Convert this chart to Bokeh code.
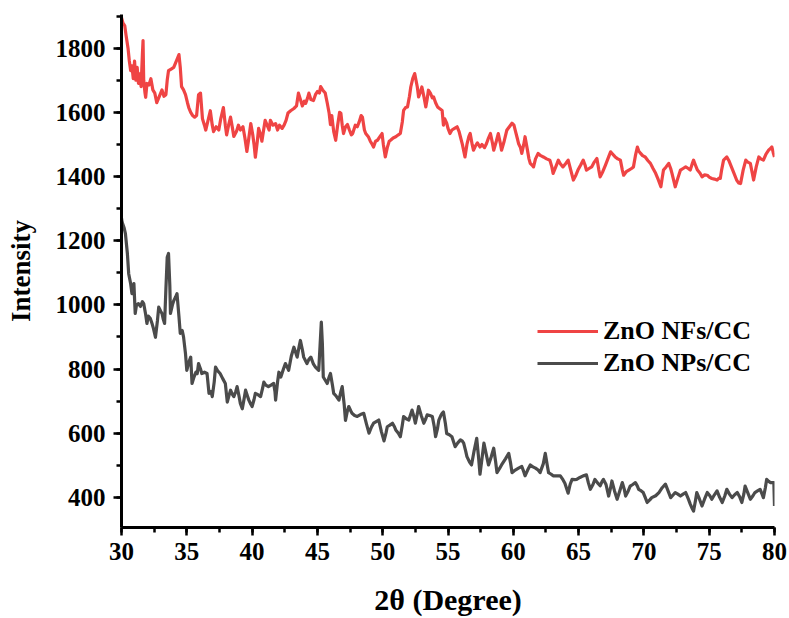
from bokeh.plotting import figure
from bokeh.models import Range1d, Legend, LegendItem, SingleIntervalTicker
from bokeh.embed import file_html
from bokeh.resources import INLINE

# ---------------- data ----------------
nfs_x = [30.0, 30.1, 30.25, 30.35, 30.5, 30.6, 30.7, 30.8, 30.9, 31.0, 31.1, 31.2, 31.3, 31.4, 31.5, 31.6, 31.65, 31.7, 31.8, 31.85,
         31.95, 32.1, 32.25, 32.4, 32.55, 32.7, 32.85, 33.0, 33.1, 33.25, 33.4, 33.5, 33.6, 33.8, 34.0, 34.15, 34.3, 34.4, 34.5, 34.6,
         34.75, 34.9, 35.05, 35.15, 35.3, 35.45, 35.6, 35.75, 35.9, 36.05, 36.2, 36.35, 36.45, 36.6, 36.8, 36.95, 37.05, 37.25, 37.45, 37.6,
         37.8, 37.95, 38.05, 38.2, 38.35, 38.5, 38.6, 38.8, 38.95, 39.1, 39.3, 39.45, 39.6, 39.75, 39.9, 40.05, 40.15, 40.25, 40.4, 40.5,
         40.65, 40.75, 40.9, 41.0, 41.15, 41.3, 41.4, 41.6, 41.8, 41.95, 42.1, 42.3, 42.45, 42.6, 42.75, 42.95, 43.2, 43.4, 43.55, 43.7,
         43.85, 44.0, 44.1, 44.25, 44.35, 44.5, 44.7, 44.85, 45.0, 45.15, 45.25, 45.4, 45.6, 45.75, 45.9, 46.0, 46.1, 46.25, 46.4, 46.55,
         46.7, 46.8, 46.9, 47.0, 47.15, 47.3, 47.45, 47.6, 47.7, 47.9, 48.05, 48.2, 48.35, 48.45, 48.6, 48.7, 48.9, 49.05, 49.2, 49.3,
         49.45, 49.6, 49.8, 49.95, 50.05, 50.2, 50.35, 50.5, 50.6, 50.8, 51.0, 51.2, 51.35, 51.5, 51.6, 51.75, 51.9, 52.05, 52.15, 52.3,
         52.45, 52.55, 52.65, 52.75, 52.9, 53.0, 53.15, 53.3, 53.4, 53.5, 53.65, 53.8, 53.9, 54.05, 54.2, 54.35, 54.55, 54.65, 54.75, 54.9,
         55.0, 55.15, 55.3, 55.5, 55.7, 55.85, 55.95, 56.1, 56.3, 56.45, 56.6, 56.7, 56.85, 56.95, 57.1, 57.25, 57.45, 57.6, 57.8, 57.95,
         58.1, 58.25, 58.4, 58.5, 58.7, 58.85, 59.0, 59.1, 59.3, 59.5, 59.7, 59.9, 60.05, 60.15, 60.3, 60.4, 60.55, 60.65, 60.8, 60.9,
         61.05, 61.2, 61.3, 61.45, 61.55, 61.7, 61.9, 62.1, 62.3, 62.55, 62.8, 62.95, 63.05, 63.25, 63.45, 63.6, 63.8, 64.0, 64.2, 64.4,
         64.6, 64.8, 64.95, 65.15, 65.35, 65.5, 65.6, 65.8, 66.0, 66.2, 66.4, 66.55, 66.65, 66.85, 67.05, 67.3, 67.45, 67.6, 67.8, 68.0,
         68.2, 68.35, 68.45, 68.65, 68.85, 69.05, 69.2, 69.35, 69.5, 69.6, 69.75, 69.9, 70.1, 70.3, 70.5, 70.7, 70.9, 71.1, 71.3, 71.4,
         71.5, 71.7, 71.9, 72.05, 72.15, 72.3, 72.4, 72.6, 72.8, 73.0, 73.2, 73.4, 73.55, 73.7, 73.8, 73.95, 74.1, 74.3, 74.45, 74.65,
         74.85, 75.0, 75.2, 75.4, 75.6, 75.75, 75.85, 75.95, 76.1, 76.35, 76.5, 76.7, 76.9, 77.1, 77.25, 77.4, 77.6, 77.8, 77.95, 78.15,
         78.3, 78.4, 78.6, 78.8, 78.95, 79.15, 79.35, 79.55, 79.7, 79.8, 79.9, 80.0]
nfs_y = [1895, 1880, 1870, 1840, 1800, 1760, 1730, 1745, 1705, 1760, 1700, 1740, 1690, 1720, 1680, 1780, 1824, 1700, 1660, 1647,
         1690, 1685, 1705, 1670, 1660, 1630, 1645, 1660, 1670, 1650, 1655, 1700, 1730, 1735, 1740, 1755, 1770, 1780, 1740, 1680,
         1670, 1655, 1630, 1615, 1600, 1590, 1585, 1590, 1655, 1660, 1580, 1560, 1545, 1570, 1605, 1560, 1540, 1555, 1545, 1580,
         1615, 1560, 1530, 1560, 1585, 1550, 1525, 1540, 1560, 1545, 1555, 1520, 1478, 1520, 1565, 1530, 1500, 1460, 1510, 1550,
         1530, 1510, 1550, 1575, 1560, 1545, 1575, 1560, 1565, 1545, 1560, 1550, 1560, 1575, 1598, 1605, 1612, 1620, 1660, 1640,
         1620, 1635, 1628, 1645, 1660, 1640, 1637, 1655, 1665, 1660, 1680, 1670, 1660, 1630, 1597, 1562, 1590, 1540, 1513, 1560,
         1600, 1597, 1560, 1534, 1555, 1562, 1545, 1530, 1534, 1560, 1555, 1570, 1590, 1585, 1545, 1534, 1524, 1510, 1500, 1492,
         1510, 1513, 1525, 1534, 1500, 1461, 1490, 1510, 1513, 1520, 1524, 1530, 1534, 1570, 1606, 1615, 1617, 1650, 1679, 1705,
         1721, 1700, 1679, 1648, 1665, 1679, 1650, 1617, 1640, 1669, 1660, 1645, 1648, 1630, 1617, 1612, 1606, 1560, 1580, 1566,
         1550, 1534, 1545, 1550, 1555, 1540, 1524, 1500, 1461, 1500, 1525, 1534, 1500, 1482, 1495, 1505, 1492, 1500, 1490, 1503,
         1520, 1534, 1505, 1482, 1510, 1534, 1505, 1482, 1510, 1544, 1555, 1566, 1560, 1544, 1520, 1503, 1490, 1472, 1500, 1524,
         1490, 1455, 1441, 1435, 1430, 1455, 1472, 1465, 1461, 1455, 1451, 1430, 1410, 1430, 1451, 1440, 1430, 1440, 1451, 1420,
         1389, 1405, 1420, 1435, 1451, 1435, 1420, 1425, 1430, 1445, 1456, 1420, 1399, 1415, 1435, 1461, 1477, 1470, 1461, 1455,
         1451, 1420, 1404, 1415, 1420, 1425, 1430, 1465, 1492, 1480, 1472, 1465, 1461, 1450, 1441, 1425, 1410, 1390, 1368, 1395,
         1420, 1430, 1441, 1425, 1410, 1385, 1368, 1395, 1420, 1425, 1430, 1425, 1420, 1440, 1451, 1435, 1420, 1410, 1399, 1405,
         1404, 1398, 1394, 1392, 1389, 1395, 1394, 1420, 1451, 1461, 1450, 1430, 1410, 1389, 1380, 1378, 1420, 1451, 1445, 1441,
         1410, 1389, 1430, 1461, 1455, 1451, 1470, 1482, 1488, 1492, 1475, 1461]

nps_x = [30.0, 30.05, 30.2, 30.3, 30.45, 30.55, 30.7, 30.8, 30.95, 31.05, 31.15, 31.3, 31.45, 31.6, 31.7, 31.85, 31.95, 32.05, 32.2, 32.35,
         32.45, 32.6, 32.75, 32.85, 33.0, 33.1, 33.2, 33.3, 33.4, 33.5, 33.6, 33.7, 33.75, 33.9, 34.0, 34.15, 34.25, 34.4, 34.5, 34.65,
         34.75, 34.9, 35.0, 35.15, 35.3, 35.4, 35.55, 35.7, 35.8, 35.9, 36.05, 36.15, 36.35, 36.55, 36.7, 36.85, 36.95, 37.1, 37.2, 37.35,
         37.55, 37.75, 37.95, 38.1, 38.25, 38.35, 38.5, 38.6, 38.75, 38.85, 39.0, 39.1, 39.25, 39.4, 39.5, 39.65, 39.75, 39.9, 40.0, 40.15,
         40.25, 40.45, 40.65, 40.8, 40.9, 41.05, 41.25, 41.45, 41.65, 41.75, 41.8, 41.95, 42.05, 42.2, 42.4, 42.55, 42.7, 42.8, 43.0, 43.2,
         43.35, 43.45, 43.6, 43.7, 43.85, 43.95, 44.1, 44.2, 44.35, 44.5, 44.7, 44.85, 45.0, 45.1, 45.2, 45.3, 45.38, 45.45, 45.6, 45.75,
         45.9, 46.0, 46.15, 46.25, 46.45, 46.65, 46.8, 46.9, 47.05, 47.15, 47.3, 47.4, 47.55, 47.65, 47.85, 48.05, 48.3, 48.55, 48.75, 48.95,
         49.15, 49.3, 49.5, 49.7, 49.9, 50.1, 50.25, 50.35, 50.55, 50.75, 50.9, 51.0, 51.2, 51.35, 51.5, 51.6, 51.8, 52.0, 52.15, 52.25,
         52.4, 52.5, 52.65, 52.75, 52.95, 53.15, 53.3, 53.4, 53.6, 53.8, 53.95, 54.05, 54.2, 54.3, 54.45, 54.55, 54.65, 54.8, 54.9, 55.1,
         55.3, 55.45, 55.55, 55.75, 55.95, 56.1, 56.2, 56.35, 56.45, 56.65, 56.8, 57.0, 57.2, 57.35, 57.45, 57.6, 57.75, 57.95, 58.1, 58.3,
         58.5, 58.65, 58.75, 58.95, 59.1, 59.4, 59.65, 59.8, 59.9, 60.15, 60.4, 60.65, 60.8, 60.9, 61.1, 61.3, 61.5, 61.7, 61.9, 62.05,
         62.3, 62.45, 62.6, 62.7, 62.9, 63.05, 63.3, 63.6, 63.8, 63.95, 64.1, 64.2, 64.35, 64.5, 64.7, 64.85, 65.1, 65.35, 65.6, 65.75,
         65.9, 66.1, 66.25, 66.45, 66.65, 66.8, 66.9, 67.1, 67.3, 67.45, 67.55, 67.75, 67.95, 68.15, 68.35, 68.5, 68.6, 68.8, 68.95, 69.15,
         69.35, 69.5, 69.6, 69.8, 69.95, 70.1, 70.25, 70.45, 70.6, 70.9, 71.15, 71.4, 71.65, 71.85, 72.05, 72.25, 72.4, 72.6, 72.8, 73.0,
         73.2, 73.4, 73.55, 73.7, 73.8, 73.95, 74.05, 74.25, 74.45, 74.65, 74.85, 75.05, 75.2, 75.4, 75.6, 75.8, 76.0, 76.2, 76.35, 76.55,
         76.75, 76.95, 77.15, 77.35, 77.5, 77.65, 77.75, 77.95, 78.15, 78.35, 78.5, 78.7, 78.9, 79.05, 79.15, 79.3, 79.4, 79.55, 79.7, 79.95,
         80.0]
nps_y = [1270, 1257, 1240, 1222, 1160, 1097, 1066, 1035, 1066, 973, 1000, 1004, 995, 1010, 1004, 970, 942, 965, 958, 940,
         926, 899, 950, 993, 980, 973, 955, 942, 1050, 1148, 1160, 1060, 973, 1000, 1013, 1025, 1035, 963, 911, 920,
         900, 848, 796, 820, 837, 755, 775, 790, 786, 817, 800, 786, 790, 786, 724, 730, 714, 760, 806, 795,
         786, 770, 755, 697, 720, 734, 720, 714, 730, 745, 715, 693, 676, 710, 734, 715, 703, 690, 683, 705,
         724, 720, 714, 740, 759, 750, 745, 750, 755, 730, 703, 760, 790, 775, 800, 817, 805, 796, 840, 868,
         850, 837, 870, 889, 860, 837, 825, 817, 830, 837, 815, 806, 800, 796, 870, 946, 880, 775, 765, 755,
         775, 786, 750, 724, 715, 703, 730, 745, 690, 640, 670, 683, 670, 662, 655, 652, 658, 662, 630, 600,
         620, 631, 636, 641, 605, 576, 600, 620, 625, 631, 620, 610, 600, 589, 625, 652, 645, 641, 660, 672,
         650, 631, 660, 683, 655, 631, 645, 657, 655, 652, 620, 589, 615, 641, 655, 662, 666, 630, 599, 595,
         589, 570, 558, 570, 579, 575, 569, 545, 527, 510, 501, 545, 584, 520, 472, 520, 569, 530, 501, 525,
         553, 510, 477, 490, 501, 520, 537, 505, 477, 485, 491, 496, 480, 467, 485, 501, 495, 491, 485, 477,
         505, 537, 500, 477, 472, 467, 467, 467, 455, 444, 425, 413, 440, 456, 455, 456, 462, 467, 470, 445,
         425, 440, 456, 445, 436, 450, 456, 440, 404, 430, 451, 420, 394, 420, 446, 425, 404, 420, 435, 440,
         446, 435, 425, 420, 415, 400, 384, 392, 399, 405, 415, 430, 441, 420, 399, 408, 415, 410, 404, 410,
         415, 395, 379, 365, 357, 390, 415, 395, 373, 395, 415, 405, 394, 408, 420, 400, 384, 405, 425, 410,
         399, 408, 415, 400, 384, 410, 435, 415, 394, 405, 415, 420, 425, 410, 399, 430, 456, 450, 446, 446,
         373]

series_labels = ["ZnO NFs/CC", "ZnO NPs/CC"]
x_ticks_interval = 5
y_ticks_interval = 200

# ---------------- figure ----------------
FONT = "Liberation Serif"
p = figure(width=789, height=618, output_backend="svg", toolbar_location=None,
           x_range=Range1d(30, 80), y_range=Range1d(306, 1905),
           min_border_left=121, min_border_right=15, min_border_top=14, min_border_bottom=90)
p.outline_line_color = None
p.grid.visible = False
p.background_fill_color = "white"
p.border_fill_color = "white"

r_nfs = p.line(nfs_x, nfs_y, line_color="#EF4444", line_width=3.2, line_join="round")
r_nps = p.line(nps_x, nps_y, line_color="#4B4B4B", line_width=3.2, line_join="round")

p.xaxis.ticker = SingleIntervalTicker(interval=x_ticks_interval, num_minor_ticks=2)
p.yaxis.ticker = SingleIntervalTicker(interval=y_ticks_interval, num_minor_ticks=2)

for ax in (p.xaxis[0], p.yaxis[0]):
    ax.axis_line_width = 3
    ax.axis_line_color = "black"
    ax.major_tick_out = 8
    ax.major_tick_in = 0
    ax.minor_tick_out = 5
    ax.minor_tick_in = 0
    ax.major_tick_line_width = 2.5
    ax.minor_tick_line_width = 2.5
    ax.major_tick_line_color = "black"
    ax.minor_tick_line_color = "black"
    ax.major_label_text_font = FONT
    ax.major_label_text_font_style = "bold"
    ax.major_label_text_font_size = "25px"
    ax.major_label_text_color = "black"
    ax.axis_label_text_font = FONT
    ax.axis_label_text_font_style = "bold"
    ax.axis_label_text_color = "black"

p.xaxis.axis_label = "2θ (Degree)"
p.xaxis.axis_label_text_font_size = "30px"
p.xaxis.major_label_standoff = 7
p.xaxis.axis_label_standoff = 20
p.yaxis.axis_label = "Intensity"
p.yaxis.axis_label_text_font_size = "27px"
p.yaxis.major_label_standoff = 8
p.yaxis.axis_label_standoff = 17

legend = Legend(items=[LegendItem(label=series_labels[0], renderers=[r_nfs]),
                       LegendItem(label=series_labels[1], renderers=[r_nps])],
                location=(416, 148), orientation="vertical",
                glyph_width=61, glyph_height=32, label_height=32, spacing=0, padding=0, margin=0,
                label_standoff=5, border_line_alpha=0, background_fill_alpha=0,
                label_text_font=FONT, label_text_font_style="bold", label_text_font_size="26px",
                label_text_color="black")
p.add_layout(legend)

open("out.html", "w").write(file_html(p, INLINE))
